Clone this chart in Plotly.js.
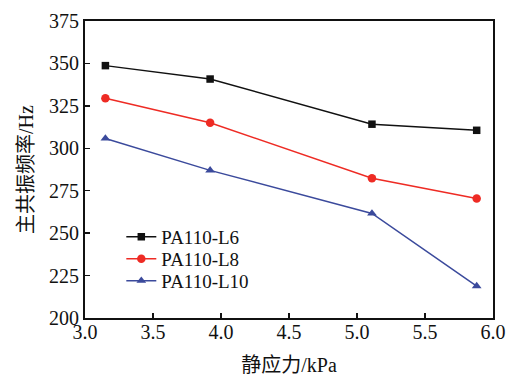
<!DOCTYPE html>
<html>
<head>
<meta charset="utf-8">
<script src="https://cdn.plot.ly/plotly-3.0.1.min.js"></script>
<style>html,body{margin:0;padding:0;background:#fff;}#chart{width:512px;height:376px;}</style>
</head>
<body>
<div id="chart"></div>
<script>
const staticStress = [3.15, 3.92, 5.11, 5.88];
const freqL6 = [348.7, 340.8, 314.2, 310.6];
const freqL8 = [329.5, 315.0, 282.4, 270.4];
const freqL10 = [305.8, 287.0, 261.6, 218.8];
const seriesNames = ['PA110-L6', 'PA110-L8', 'PA110-L10'];
const xTicks = [3.0, 3.5, 4.0, 4.5, 5.0, 5.5, 6.0];
const yTicks = [200, 225, 250, 275, 300, 325, 350, 375];

const font = "'Liberation Serif', 'Noto Sans CJK SC', serif";
const legFont = {family: font, size: 19, color: '#111'};
const traces = [
  {x: staticStress, y: freqL6, name: seriesNames[0], mode: 'lines+markers', legend: 'legend',
   line: {color: '#111111', width: 1.5}, marker: {symbol: 'square', size: 7.5, color: '#111111'}},
  {x: staticStress, y: freqL8, name: seriesNames[1], mode: 'lines+markers', legend: 'legend2',
   line: {color: '#ee2b24', width: 1.5}, marker: {symbol: 'circle', size: 8.5, color: '#ee2b24'}},
  {x: staticStress, y: freqL10, name: seriesNames[2], mode: 'lines+markers', legend: 'legend3',
   line: {color: '#3b4a9c', width: 1.5}, marker: {symbol: 'triangle-up', size: 8.5, color: '#3b4a9c'}}
];
function leg(y) {
  return {x: 0.089, y: y, xanchor: 'left', yanchor: 'middle', bgcolor: 'rgba(0,0,0,0)',
          font: legFont, itemwidth: 30, borderwidth: 0};
}
const layout = {
  width: 512, height: 376,
  margin: {l: 85, r: 19, t: 21, b: 58},
  paper_bgcolor: '#fff', plot_bgcolor: '#fff',
  font: {family: font, size: 20, color: '#111'},
  showlegend: true,
  legend: leg(0.273), legend2: leg(0.199), legend3: leg(0.125),
  xaxis: {range: [3.0, 6.0], tickvals: xTicks, ticktext: xTicks.map(v => v.toFixed(1)),
          ticks: 'inside', ticklen: 5, tickwidth: 1.5, tickcolor: '#111',
          tickfont: {family: font, size: 20}, ticklabelstandoff: -5,
          showline: true, linecolor: '#111', linewidth: 2, mirror: true, showgrid: false, zeroline: false,
          title: {text: '静应力/kPa', font: {family: font, size: 20}, standoff: 16}},
  yaxis: {range: [200, 375], tickvals: yTicks,
          ticks: 'inside', ticklen: 5, tickwidth: 1.5, tickcolor: '#111',
          tickfont: {family: font, size: 20},
          showline: true, linecolor: '#111', linewidth: 2, mirror: true, showgrid: false, zeroline: false,
          title: {text: '主共振频率/Hz', font: {family: font, size: 20}, standoff: 10}}
};
Plotly.newPlot('chart', traces, layout, {staticPlot: true, displayModeBar: false});
</script>
</body>
</html>
